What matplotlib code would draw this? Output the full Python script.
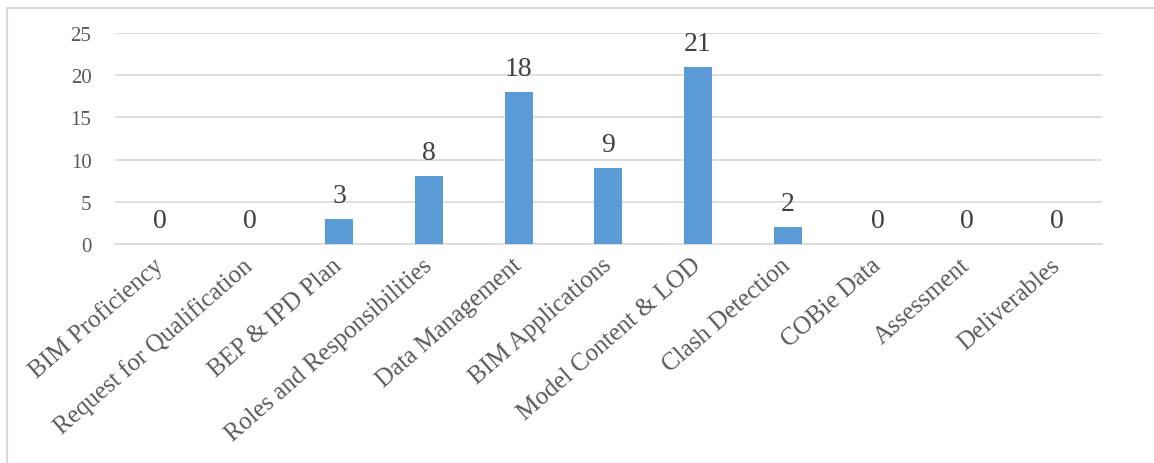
import matplotlib.pyplot as plt
from matplotlib.patches import Rectangle

categories = [
    "BIM Proficiency",
    "Request for Qualification",
    "BEP & IPD Plan",
    "Roles and Responsibilities",
    "Data Management",
    "BIM Applications",
    "Model Content & LOD",
    "Clash Detection",
    "COBie Data",
    "Assessment",
    "Deliverables",
]
counts = [0, 0, 3, 8, 18, 9, 21, 2, 0, 0, 0]
y_ticks = [0, 5, 10, 15, 20, 25]

BAR_COLOR = "#5B9BD5"
GRID_COLOR = "#D9D9D9"
TEXT_COLOR = "#595959"
LABEL_COLOR = "#404040"

plt.rcParams["font.family"] = ["Liberation Serif", "DejaVu Serif"]

fig = plt.figure(figsize=(11.54, 4.64), dpi=100)
ax = fig.add_axes([0.0997, 0.472, 0.855, 0.455])

x = range(len(categories))
bars = ax.bar(x, counts, width=0.31, color=BAR_COLOR, zorder=3)

for rect, val in zip(bars, counts):
    ax.annotate(
        f"{val}",
        xy=(rect.get_x() + rect.get_width() / 2, val),
        xytext=(0, 8),
        textcoords="offset points",
        ha="center",
        va="bottom",
        fontsize=20,
        color=LABEL_COLOR,
    )

ax.set_xlim(-0.5, len(categories) - 0.5)
ax.set_ylim(0, 25)
ax.set_yticks(y_ticks)
ax.yaxis.grid(True, color=GRID_COLOR, linewidth=1.2, zorder=0)
ax.tick_params(axis="y", length=0, pad=17, labelsize=15, labelcolor=TEXT_COLOR)
ax.tick_params(axis="x", length=0, pad=13)

ax.set_xticks(list(x))
ax.set_xticklabels(
    categories,
    rotation=41,
    ha="right",
    va="center",
    rotation_mode="anchor",
    fontsize=18,
    color=TEXT_COLOR,
)

for side in ["top", "right", "left"]:
    ax.spines[side].set_visible(False)
ax.spines["bottom"].set_color(GRID_COLOR)
ax.spines["bottom"].set_linewidth(1.2)

# outer chart frame, cut off on the right and bottom
fig.patches.append(
    Rectangle(
        (7 / 1154, -0.05),
        1.1,
        (464 - 9) / 464 + 0.05,
        transform=fig.transFigure,
        fill=False,
        edgecolor=GRID_COLOR,
        linewidth=1.5,
    )
)

fig.savefig("out.png", dpi=100)
